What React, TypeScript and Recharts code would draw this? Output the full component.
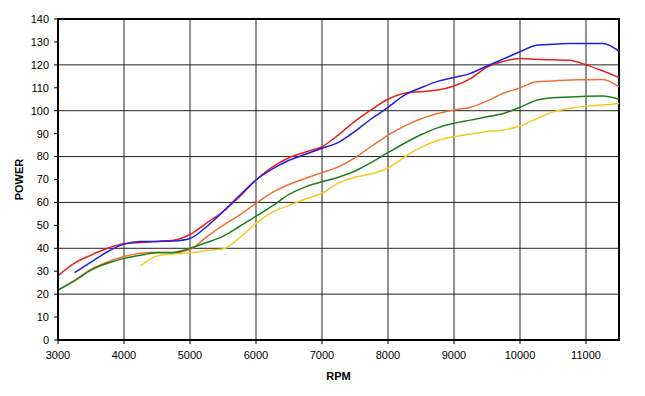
import React from 'react';
import { LineChart, Line, XAxis, YAxis, CartesianGrid, ReferenceArea } from 'recharts';

const rpm = [3000, 3250, 3500, 3750, 4000, 4250, 4500, 4750, 5000, 5250, 5500, 5750, 6000, 6250, 6500, 6750, 7000, 7250, 7500, 7750, 8000, 8250, 8500, 8750, 9000, 9250, 9500, 9750, 10000, 10250, 10500, 10750, 11000, 11250, 11500];

const red = [28, 33.5, 37, 40, 42, 42.5, 43, 43.5, 46, 51, 56, 62.5, 69.8, 75.5, 79.5, 82, 84.3, 89.5, 95.5, 100.5, 105, 107.6, 108.3, 109, 110.8, 114, 119, 121.5, 122.8, 122.4, 122.2, 122, 120, 117.4, 114.5];
const blue = [null, 29.4, 34, 38.5, 41.8, 43, 43, 43.2, 44.3, 49.4, 56, 63, 69.8, 74.6, 78.4, 81, 83.6, 86.2, 91, 96.5, 101.5, 106.8, 110, 112.8, 114.5, 116.3, 119.5, 122.6, 125.7, 128.6, 129, 129.3, 129.3, 129.3, 126];
const orange = [21.8, 26, 30.8, 34, 36.4, 37.8, 38.3, 38.2, 39.5, 45, 50, 54.5, 59.6, 64.4, 67.8, 70.5, 73, 75.5, 79.5, 84.5, 89.4, 93.3, 96.5, 98.8, 100.3, 101.5, 104.2, 107.6, 110, 112.6, 113, 113.4, 113.5, 113.6, 110.4];
const green = [21.8, 25.8, 30.5, 33.5, 35.6, 37, 38, 38.2, 40, 42.5, 45.2, 49.5, 54, 58.5, 63.5, 66.8, 69, 71, 73.7, 77.5, 81.7, 85.8, 89.5, 92.5, 94.5, 95.9, 97.4, 98.8, 101.5, 104.6, 105.7, 106, 106.3, 106.4, 105];
const yellow = [null, null, null, null, null, 32.3, 36.6, 37.5, 38, 39, 39.7, 44.5, 50.9, 55.8, 58.7, 61.5, 64, 68.5, 71, 72.5, 75, 79.8, 84, 87, 88.7, 89.8, 90.9, 91.6, 93.3, 96.5, 99.5, 101, 102, 102.5, 103.2];

const xTicks = [3000, 4000, 5000, 6000, 7000, 8000, 9000, 10000, 11000];
const yTicks = [0, 10, 20, 30, 40, 50, 60, 70, 80, 90, 100, 110, 120, 130, 140];

const data = rpm.map((r, i) => ({
  rpm: r,
  red: red[i],
  blue: blue[i],
  orange: orange[i],
  green: green[i],
  yellow: yellow[i],
}));

const font = { fontFamily: '"Liberation Sans", Arial, sans-serif', fontSize: 11, fill: '#000' };

export default function App() {
  return (
    <div style={{ position: 'absolute', left: 0, top: 0, background: '#fff' }}>
      <LineChart width={645} height={396} data={data} margin={{ top: 19, right: 26, left: 0, bottom: 0 }}>
        <CartesianGrid stroke="#222" strokeWidth={1} horizontalValues={yTicks} verticalValues={xTicks} />
        <XAxis
          dataKey="rpm"
          type="number"
          domain={[3000, 11500]}
          ticks={xTicks}
          allowDataOverflow
          height={56}
          tick={font}
          tickSize={4}
          tickMargin={7}
          axisLine={{ stroke: '#000', strokeWidth: 2 }}
          tickLine={{ stroke: '#000' }}
          label={{ value: 'RPM', position: 'insideBottom', offset: 16, style: { ...font, fontWeight: 'bold' } }}
        />
        <YAxis
          type="number"
          domain={[0, 140]}
          ticks={yTicks}
          width={58}
          tick={font}
          tickSize={4}
          tickMargin={5}
          axisLine={{ stroke: '#000', strokeWidth: 2 }}
          tickLine={{ stroke: '#000' }}
          label={{ value: 'POWER', angle: -90, position: 'insideLeft', offset: 19, style: { ...font, fontWeight: 'bold', textAnchor: 'middle' } }}
        />
        <Line type="monotone" dataKey="yellow" stroke="#F8C820" strokeWidth={1.5} dot={false} isAnimationActive={false} connectNulls={false} />
        <Line type="monotone" dataKey="orange" stroke="#F07030" strokeWidth={1.5} dot={false} isAnimationActive={false} />
        <Line type="monotone" dataKey="green" stroke="#1E7E1E" strokeWidth={1.5} dot={false} isAnimationActive={false} />
        <Line type="monotone" dataKey="red" stroke="#E82020" strokeWidth={1.5} dot={false} isAnimationActive={false} />
        <Line type="monotone" dataKey="blue" stroke="#1F1FE0" strokeWidth={1.5} dot={false} isAnimationActive={false} />
        <ReferenceArea x1={3000} x2={11500} y1={0} y2={140} fill="none" stroke="#000" strokeWidth={2} ifOverflow="visible" />
      </LineChart>
    </div>
  );
}
